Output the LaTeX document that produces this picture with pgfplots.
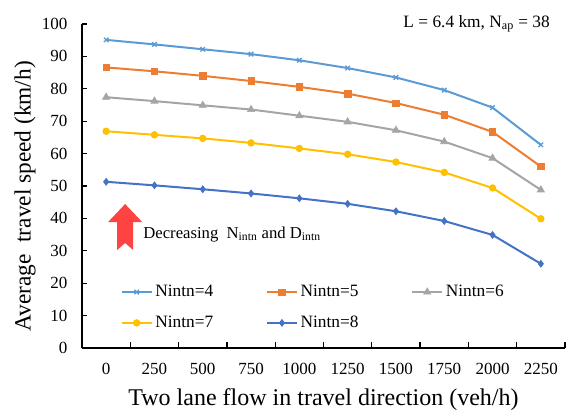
\documentclass[border=0pt]{standalone}
\usepackage{fontspec}
\setmainfont{Liberation Serif}
\usepackage{pgfplots}
\pgfplotsset{compat=1.18}
\usetikzlibrary{calc}
\definecolor{c4}{HTML}{5B9BD5}
\definecolor{c5}{HTML}{ED7D31}
\definecolor{c6}{HTML}{A5A5A5}
\definecolor{c7}{HTML}{FFC000}
\definecolor{c8}{HTML}{4472C4}
\definecolor{arrowred}{HTML}{FF4343}
\begin{document}
\begin{tikzpicture}
\begin{axis}[
  scale only axis, width=362.25pt, height=243pt,
  xmin=-0.5, xmax=9.5, ymin=0, ymax=100,
  clip=false,
  axis x line*=bottom, axis y line*=left,
  axis line style={line width=1.2pt, black, -},
  xtick={0,...,9},
  xticklabels={0,250,500,750,1000,1250,1500,1750,2000,2250},
  major x tick style={draw=none},
  minor xtick={-0.5,0.5,...,9.5},
  minor tick length=4.5pt,
  minor x tick style={black, line width=1pt},
  ytick={0,10,...,100},
  tick align=inside,
  major tick length=3.75pt,
  major y tick style={black, line width=1pt},
  /pgf/number format/assume math mode=true,
  xticklabel style={font=\fontsize{12.75}{15}\selectfont, yshift=-8pt},
  yticklabel style={font=\fontsize{12.75}{15}\selectfont, xshift=-7.5pt},
  xlabel={Two lane flow in travel direction (veh/h)},
  ylabel={Average\ \ travel speed (km/h)},
  xlabel style={font=\fontsize{18}{21}\selectfont, at={(axis description cs:0.5,-0.16)}, anchor=center},
  ylabel style={font=\fontsize{17.5}{20}\selectfont, at={(axis description cs:-0.118,0.468)}, anchor=center},
  legend columns=3,
  legend cell align=left,
  legend style={draw=none, fill=none, inner sep=0pt,
    font=\fontsize{13}{15}\selectfont,
    nodes={inner sep=2pt},
    at={(axis cs:0.296,12.5)}, anchor=west,
    row sep=9pt,
    /tikz/every even column/.append style={column sep=37.5pt}},
  legend image code/.code={\draw[mark repeat=2,mark phase=2] plot coordinates {(0pt,0pt) (11.25pt,0pt) (22.5pt,0pt)};},
  every axis plot/.append style={line width=1.5pt},
]
\addplot[c4, mark=x, mark size=2.4pt, mark options={line width=1pt}] coordinates {
(0,95.1) (1,93.7) (2,92.2) (3,90.7) (4,88.8) (5,86.4) (6,83.5) (7,79.6) (8,74.2) (9,62.7)};
\addlegendentry{Nintn=4}
\addplot[c5, mark=square*, mark size=2.4pt, mark options={line width=0.5pt}] coordinates {
(0,86.6) (1,85.4) (2,84.0) (3,82.4) (4,80.6) (5,78.5) (6,75.6) (7,72.0) (8,66.7) (9,56.0)};
\addlegendentry{Nintn=5}
\addplot[c6, mark=triangle*, mark size=3.1pt, mark options={line width=0.5pt}] coordinates {
(0,77.4) (1,76.2) (2,74.9) (3,73.6) (4,71.7) (5,69.8) (6,67.2) (7,63.7) (8,58.6) (9,48.8)};
\addlegendentry{Nintn=6}
\addplot[c7, mark=*, mark size=2.5pt, mark options={line width=0.5pt}] coordinates {
(0,66.9) (1,65.8) (2,64.7) (3,63.3) (4,61.6) (5,59.8) (6,57.4) (7,54.2) (8,49.4) (9,39.9)};
\addlegendentry{Nintn=7}
\addplot[c8, mark=diamond*, mark size=2.6pt, mark options={line width=0.5pt}] coordinates {
(0,51.3) (1,50.2) (2,49.0) (3,47.7) (4,46.2) (5,44.5) (6,42.2) (7,39.2) (8,34.9) (9,26.0)};
\addlegendentry{Nintn=8}

\fill[arrowred] (axis cs:0.393,44.44) -- (axis cs:0.745,38.89) -- (axis cs:0.559,38.89) -- (axis cs:0.559,30.25) -- (axis cs:0.393,32.41) -- (axis cs:0.228,30.25) -- (axis cs:0.228,38.89) -- (axis cs:0.041,38.89) -- cycle;
\node[anchor=base west, inner sep=0pt, font=\fontsize{12.5}{15}\selectfont] at (axis cs:0.766,33.95) {Decreasing\ \ N\textsubscript{intn} and D\textsubscript{intn}};
\node[anchor=base east, inner sep=0pt, font=\fontsize{13}{15}\selectfont] at (axis cs:9.19,99.07) {L = 6.4 km, N\textsubscript{ap} = 38};
\end{axis}
\pgfresetboundingbox
\path[use as bounding box] ($(current axis.south west)+(-61.5pt,-50.25pt)$) rectangle ($(current axis.north east)+(3.75pt,18pt)$);
\end{tikzpicture}
\end{document}
